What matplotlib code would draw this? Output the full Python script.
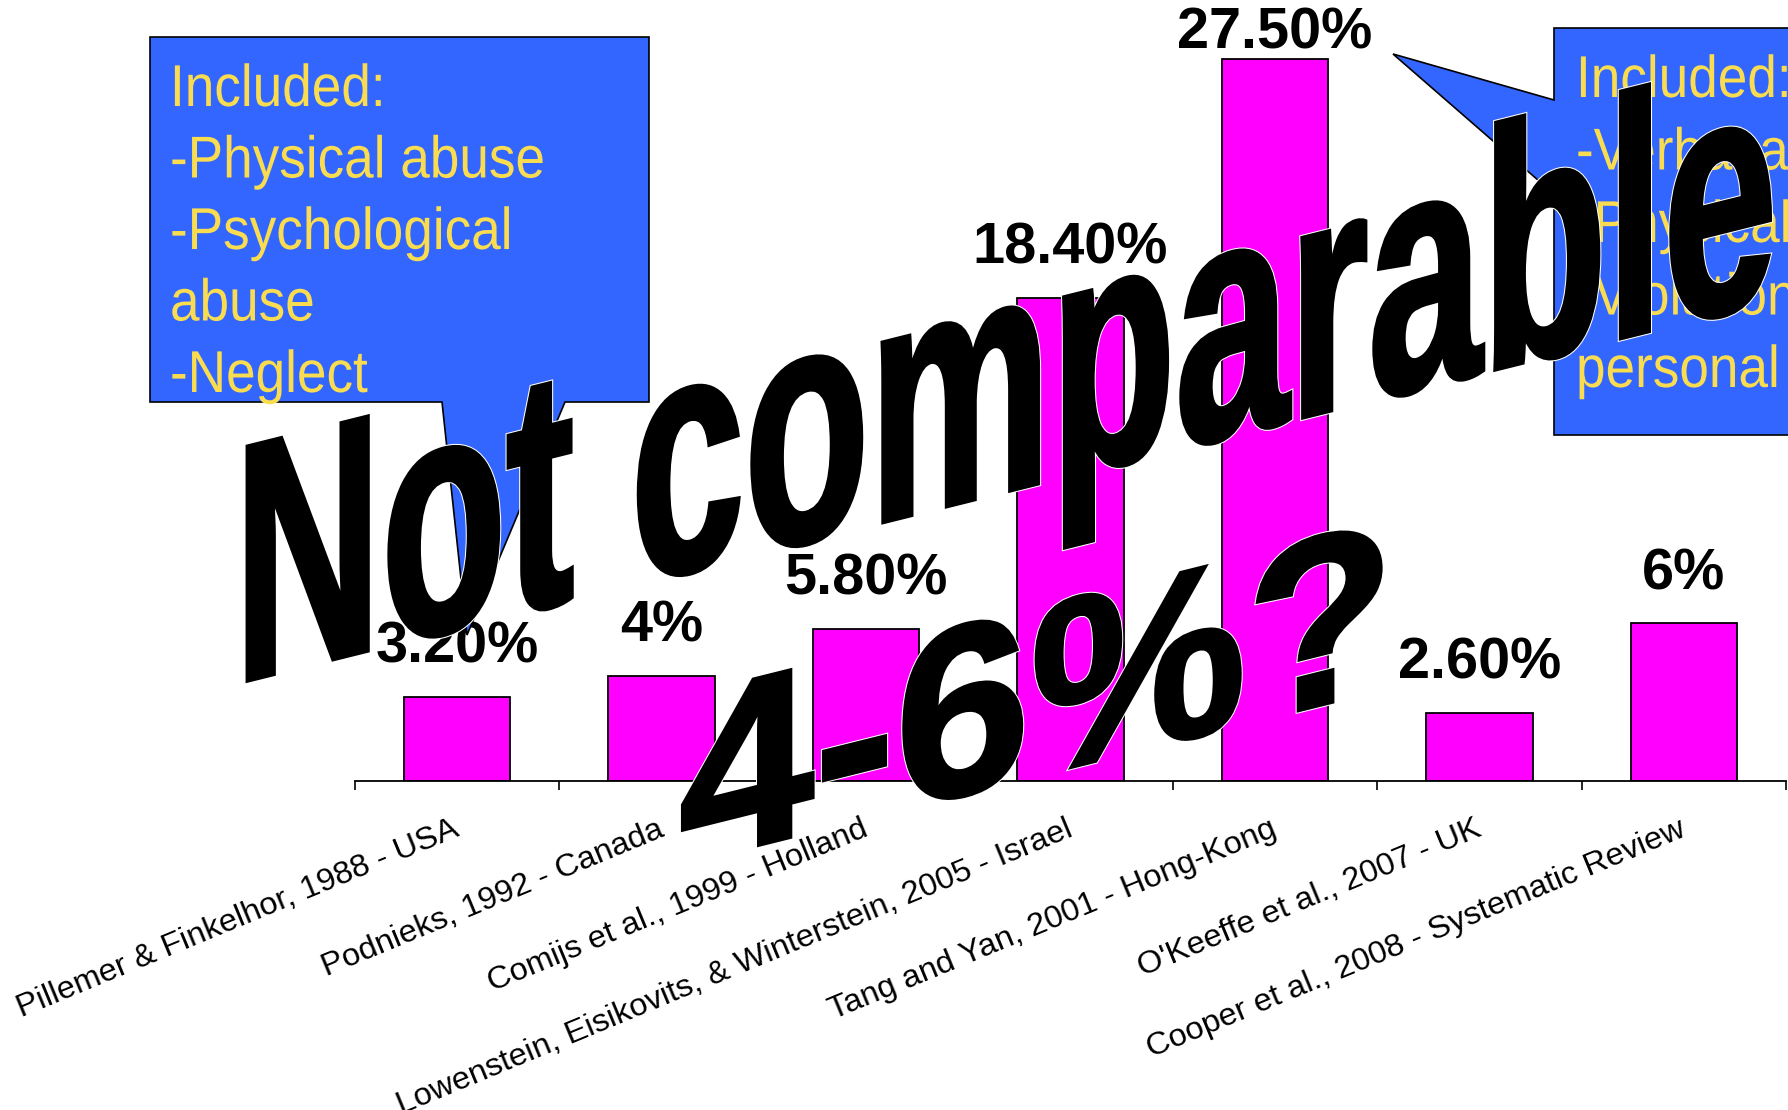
import matplotlib
matplotlib.use("Agg")
import matplotlib.pyplot as plt
from matplotlib.patches import Polygon
from matplotlib.patheffects import AbstractPathEffect
from matplotlib.transforms import Affine2D, ScaledTranslation

# ---- data ----
studies = [
    "Pillemer & Finkelhor, 1988 - USA",
    "Podnieks, 1992 - Canada",
    "Comijs et al., 1999 - Holland",
    "Lowenstein, Eisikovits, & Winterstein, 2005 - Israel",
    "Tang and Yan, 2001 - Hong-Kong",
    "O'Keeffe et al., 2007 - UK",
    "Cooper et al., 2008 - Systematic Review",
]
prevalence = [3.2, 4.0, 5.8, 18.4, 27.5, 2.6, 6.0]
value_labels = ["3.20%", "4%", "5.80%", "18.40%", "27.50%", "2.60%", "6%"]

left_note = ["Included:", "-Physical abuse", "-Psychological", "abuse", "-Neglect"]
right_note = ["Included:", "-Verbal abuse", "-Physical abuse", "-Violation of", "personal rights"]
headline = "Not comparable"
estimate = "4-6%?"

W, H = 1788, 1110
BAR = "#FF00FF"
BLUE = "#3366FF"
YELLOW = "#F9DC4F"


class Warp(AbstractPathEffect):
    """Squash / shear the glyphs about each line's origin (WordArt look)."""

    def __init__(self, sx=1.0, sy=1.0, shear=0.0, bold=0.0, halo=None):
        super().__init__()
        self.sx, self.sy, self.shear = sx, sy, shear
        self.bold, self.halo = bold, halo

    def _stroke(self, renderer, gc, tpath, trans, color, lw):
        gc0 = renderer.new_gc()
        gc0.copy_properties(gc)
        gc0.set_foreground(color)
        gc0.set_linewidth(lw)
        gc0.set_joinstyle("miter")
        renderer.draw_path(gc0, tpath, trans, None)
        gc0.restore()

    def draw_path(self, renderer, gc, tpath, affine, rgbFace=None):
        tx, ty = affine.get_matrix()[:2, 2]
        extra = (Affine2D().translate(-tx, -ty).scale(self.sx, self.sy)
                 .skew_deg(0, self.shear).translate(tx, ty))
        trans = affine + extra
        if self.halo is not None:
            self._stroke(renderer, gc, tpath, trans, self.halo, self.bold + 1.5)
        if self.bold:
            self._stroke(renderer, gc, tpath, trans, rgbFace, self.bold)
        renderer.draw_path(gc, tpath, trans, rgbFace)


def px(x, y):
    # image pixel (origin top-left) -> figure fraction
    return x / W, 1 - y / H


fig = plt.figure(figsize=(W / 100, H / 100), dpi=100)
fig.patch.set_facecolor("white")

ax = fig.add_axes([355 / W, (H - 781) / H, (1786 - 355) / W, 781 / H])
x = list(range(len(studies)))
ax.bar(x, prevalence, width=0.52, color=BAR, edgecolor="black", linewidth=1.3, zorder=2)
ax.set_xlim(-0.5, 6.5)
ax.set_ylim(0, 29.75)

# value labels, pushed down when they would leave the plot area
for i, (v, lab) in enumerate(zip(prevalence, value_labels)):
    ax.text(i, min(v + 1.3, 27.92), lab, ha="center", va="baseline",
            fontsize=41.5, fontweight="bold", family="Liberation Sans", zorder=3)

for side in ["left", "right", "top"]:
    ax.spines[side].set_visible(False)
ax.spines["bottom"].set_linewidth(1.3)
ax.set_yticks([])
ax.set_xticks([i - 0.5 for i in range(len(studies) + 1)])
ax.set_xticklabels([])
ax.tick_params(axis="x", which="major", direction="out", length=6.5, width=1.2)
ax.set_xticks(x, studies, minor=True)
ax.tick_params(axis="x", which="minor", length=0, pad=24)
shift = ScaledTranslation(-0.05, 0, fig.dpi_scale_trans)
for t in ax.get_xticklabels(minor=True):
    t.set_rotation(22.5)
    t.set_ha("right")
    t.set_va("top")
    t.set_rotation_mode("anchor")
    t.set_fontsize(23.4)
    t.set_family("Liberation Sans")
    t.set_transform(t.get_transform() + shift)

# callout boxes
left_box = [(150, 37), (649, 37), (649, 402), (565, 402), (467, 635), (442, 402), (150, 402)]
right_box = [(1554, 28), (1800, 28), (1800, 435), (1554, 435), (1554, 194), (1393, 54), (1554, 100)]
for pts in (left_box, right_box):
    fig.patches.append(Polygon([px(a, b) for a, b in pts], closed=True, transform=fig.transFigure,
                               facecolor=BLUE, edgecolor="black", linewidth=1.2, zorder=5))

note_fx = [Warp(sx=0.9)]
for k, line in enumerate(left_note):
    fig.text(*px(170, 106 + k * 71.5), line, ha="left", va="baseline", fontsize=42.5,
             color=YELLOW, family="Liberation Sans", path_effects=note_fx, zorder=6)
for k, line in enumerate(right_note):
    fig.text(*px(1576, 97 + k * 72.5), line, ha="left", va="baseline", fontsize=42.5,
             color=YELLOW, family="Liberation Sans", path_effects=note_fx, zorder=6)

# the big stamped words
fig.text(*px(234, 684), headline, ha="left", va="baseline", fontsize=245, fontweight="bold",
         family="Liberation Sans", color="black", zorder=10,
         path_effects=[Warp(sx=0.6, shear=14, bold=3.0, halo="white")])
fig.text(*px(679, 865), estimate, ha="left", va="baseline", fontsize=175, fontweight="bold",
         family="Liberation Sans", color="black", zorder=10,
         path_effects=[Warp(sx=1.0, shear=14, bold=2.5, halo="white")])

fig.savefig("out.png", dpi=100, facecolor="white")
